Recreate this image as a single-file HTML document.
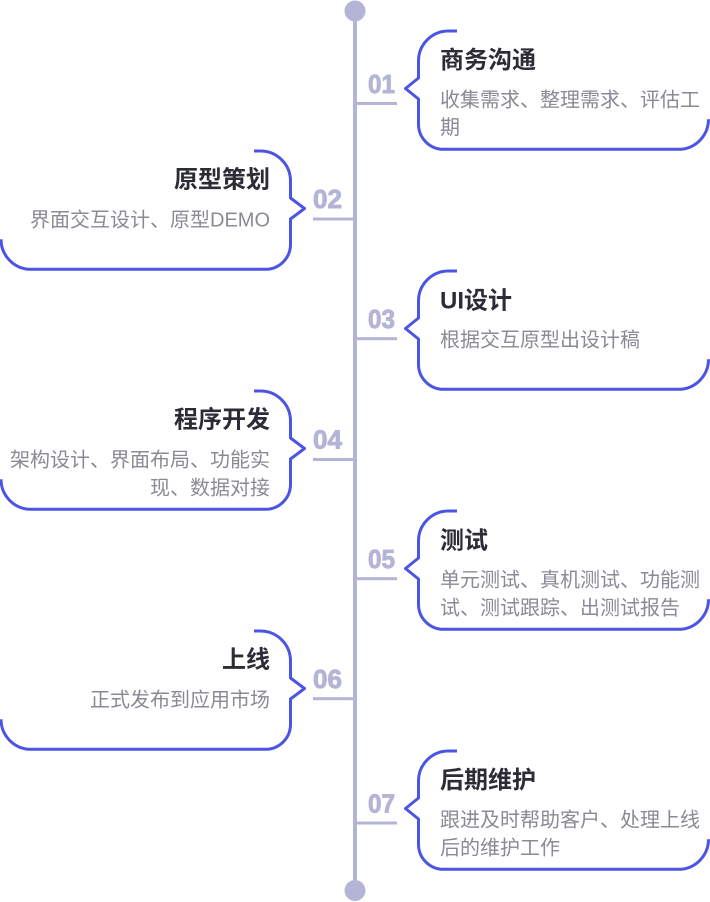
<!DOCTYPE html>
<html>
<head>
<meta charset="utf-8">
<style>
  html,body{margin:0;padding:0;background:#ffffff;}
  body{width:710px;height:902px;overflow:hidden;}
  svg{display:block;}
  .t{font-family:"Liberation Sans","Noto Sans CJK SC",sans-serif;font-size:24px;font-weight:bold;fill:#2c2c37;}
  .b{font-family:"Liberation Sans","Noto Sans CJK SC",sans-serif;font-size:20px;fill:#8a8a94;}
  .n{font-family:"Liberation Sans","DejaVu Sans",sans-serif;font-size:26px;font-weight:bold;fill:#b3b4d6;stroke:#b3b4d6;stroke-width:0.9;}
  .box{fill:none;stroke:#4b55e3;stroke-width:3;stroke-linejoin:round;stroke-linecap:butt;}
</style>
</head>
<body>
<svg width="710" height="902" viewBox="0 0 710 902" xmlns="http://www.w3.org/2000/svg">
  <!-- timeline -->
  <rect x="353" y="11" width="4" height="880" fill="#b4b5d6"/>
  <circle cx="355" cy="11" r="10.5" fill="#b4b5d6"/>
  <circle cx="355" cy="890.5" r="10.5" fill="#b4b5d6"/>

  <!-- ticks -->
  <rect x="355" y="102" width="42" height="3" fill="#b4b5d6"/>
  <rect x="313" y="217.5" width="42" height="3" fill="#b4b5d6"/>
  <rect x="355" y="337.2" width="42" height="3" fill="#b4b5d6"/>
  <rect x="313" y="458" width="42" height="3" fill="#b4b5d6"/>
  <rect x="355" y="577.2" width="42" height="3" fill="#b4b5d6"/>
  <rect x="313" y="697.2" width="42" height="3" fill="#b4b5d6"/>
  <rect x="355" y="821.5" width="42" height="3" fill="#b4b5d6"/>

  <!-- numbers -->
  <text class="n" x="368" y="93" textLength="27" lengthAdjust="spacingAndGlyphs">01</text>
  <text class="n" x="313" y="208" textLength="29" lengthAdjust="spacingAndGlyphs">02</text>
  <text class="n" x="368" y="328" textLength="27" lengthAdjust="spacingAndGlyphs">03</text>
  <text class="n" x="313" y="448.5" textLength="29" lengthAdjust="spacingAndGlyphs">04</text>
  <text class="n" x="368" y="568" textLength="27" lengthAdjust="spacingAndGlyphs">05</text>
  <text class="n" x="313" y="688" textLength="29" lengthAdjust="spacingAndGlyphs">06</text>
  <text class="n" x="368" y="812.5" textLength="27" lengthAdjust="spacingAndGlyphs">07</text>

  <!-- box 01 (right) T=31 -->
  <path class="box" d="M457 31 H448 A30 30 0 0 0 418.5 61 V78 L405.5 88.5 L418.5 99 V124.5 A25 25 0 0 0 443.5 149.3 H678.5 A30 30 0 0 0 708.5 119.3"/>
  <text class="t" x="440" y="68">商务沟通</text>
  <text class="b" x="440" y="106.5">收集需求、整理需求、评估工</text>
  <text class="b" x="440" y="134">期</text>

  <!-- box 02 (left) T=151 -->
  <path class="box" d="M254 151 H260.5 A30 30 0 0 1 290.5 181 V198 L304.5 208.5 L290.5 219 V244.5 A25 25 0 0 1 265.5 269.3 H31 A30 30 0 0 1 1 239.3"/>
  <text class="t" x="270" y="187.3" text-anchor="end">原型策划</text>
  <text class="b" x="270" y="226.5" text-anchor="end">界面交互设计、原型DEMO</text>

  <!-- box 03 (right) T=271 -->
  <path class="box" d="M457 271 H448 A30 30 0 0 0 418.5 301 V318 L405.5 328.5 L418.5 339 V364.5 A25 25 0 0 0 443.5 389.3 H678.5 A30 30 0 0 0 708.5 359.3"/>
  <text class="t" x="440" y="308.3">UI设计</text>
  <text class="b" x="440" y="346.5">根据交互原型出设计稿</text>

  <!-- box 04 (left) T=391 -->
  <path class="box" d="M254 391 H260.5 A30 30 0 0 1 290.5 421 V438 L304.5 448.5 L290.5 459 V484.5 A25 25 0 0 1 265.5 509.3 H31 A30 30 0 0 1 1 479.3"/>
  <text class="t" x="270" y="427.3" text-anchor="end">程序开发</text>
  <text class="b" x="270" y="466.5" text-anchor="end">架构设计、界面布局、功能实</text>
  <text class="b" x="270" y="494.5" text-anchor="end">现、数据对接</text>

  <!-- box 05 (right) T=511 -->
  <path class="box" d="M457 511 H448 A30 30 0 0 0 418.5 541 V558 L405.5 568.5 L418.5 579 V604.5 A25 25 0 0 0 443.5 629.3 H678.5 A30 30 0 0 0 708.5 599.3"/>
  <text class="t" x="440" y="548.3">测试</text>
  <text class="b" x="440" y="586.5">单元测试、真机测试、功能测</text>
  <text class="b" x="440" y="614.5">试、测试跟踪、出测试报告</text>

  <!-- box 06 (left) T=631 -->
  <path class="box" d="M254 631 H260.5 A30 30 0 0 1 290.5 661 V678 L304.5 688.5 L290.5 699 V724.5 A25 25 0 0 1 265.5 749.3 H31 A30 30 0 0 1 1 719.3"/>
  <text class="t" x="270" y="667.3" text-anchor="end">上线</text>
  <text class="b" x="270" y="706.5" text-anchor="end">正式发布到应用市场</text>

  <!-- box 07 (right) T=751 -->
  <path class="box" d="M457 751 H448 A30 30 0 0 0 418.5 781 V798 L405.5 808.5 L418.5 819 V844.5 A25 25 0 0 0 443.5 869.3 H678.5 A30 30 0 0 0 708.5 839.3"/>
  <text class="t" x="440" y="788">后期维护</text>
  <text class="b" x="440" y="826.5">跟进及时帮助客户、处理上线</text>
  <text class="b" x="440" y="854.5">后的维护工作</text>
</svg>
</body>
</html>
